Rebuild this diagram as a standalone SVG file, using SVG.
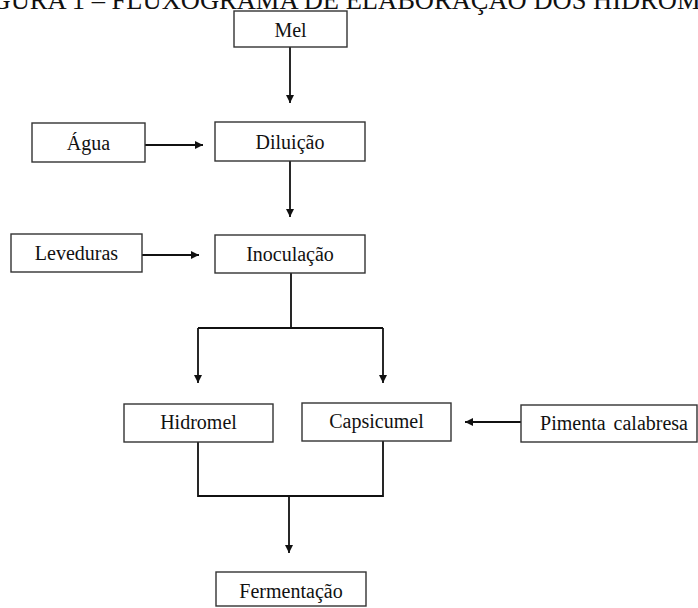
<svg xmlns="http://www.w3.org/2000/svg" width="698" height="608" viewBox="0 0 698 608">
<style>
.box{fill:#fff;stroke:#333;stroke-width:1.4}
.lbl{font-family:"Liberation Serif","Times New Roman",serif;font-size:20px;fill:#111;text-anchor:middle}
.ttl{font-family:"Liberation Serif","Times New Roman",serif;font-size:26.5px;fill:#111}
.ln{fill:none;stroke:#111;stroke-width:1.8}
</style>
<defs>
<marker id="ah" viewBox="0 0 10 10" refX="10" refY="5" markerWidth="8" markerHeight="8" markerUnits="userSpaceOnUse" orient="auto">
<path d="M0,0 L10,5 L0,10 z" fill="#111"/>
</marker>
</defs>
<rect width="698" height="608" fill="#fff"/>
<text class="ttl" x="-32" y="9">FIGURA 1 – FLUXOGRAMA DE ELABORAÇÃO DOS HIDROMÉIS</text>
<g id="connectors">
<path class="ln" d="M290,47 V103" marker-end="url(#ah)"/>
<path class="ln" d="M145,145 H203" marker-end="url(#ah)"/>
<path class="ln" d="M290,161 V217" marker-end="url(#ah)"/>
<path class="ln" d="M142,255 H199" marker-end="url(#ah)"/>
<path class="ln" d="M291,273 V328 M198,328 H383"/>
<path class="ln" d="M198,328 V383" marker-end="url(#ah)"/>
<path class="ln" d="M383,328 V383" marker-end="url(#ah)"/>
<path class="ln" d="M521,422 H465" marker-end="url(#ah)"/>
<path class="ln" d="M198,442 V496 H383 V441"/>
<path class="ln" d="M289,496 V553" marker-end="url(#ah)"/>
</g>
<g id="mel"><rect class="box" x="234" y="11" width="113" height="36"/><text class="lbl" x="290.5" y="37">Mel</text></g>
<g id="agua"><rect class="box" x="32" y="123" width="113" height="39"/><text class="lbl" x="88.5" y="150">Água</text></g>
<g id="diluicao"><rect class="box" x="215" y="122" width="150" height="39"/><text class="lbl" x="290" y="149">Diluição</text></g>
<g id="leveduras"><rect class="box" x="11" y="234" width="131" height="38"/><text class="lbl" x="76.5" y="260">Leveduras</text></g>
<g id="inoculacao"><rect class="box" x="215" y="235" width="150" height="38"/><text class="lbl" x="290" y="261">Inoculação</text></g>
<g id="hidromel"><rect class="box" x="124" y="404" width="149" height="38"/><text class="lbl" x="198.5" y="429">Hidromel</text></g>
<g id="capsicumel"><rect class="box" x="302" y="403" width="149" height="38"/><text class="lbl" x="376.5" y="428">Capsicumel</text></g>
<g id="pimenta"><rect class="box" x="521" y="405" width="176" height="37"/><text class="lbl" x="614" y="430" word-spacing="3">Pimenta calabresa</text></g>
<g id="fermentacao"><rect class="box" x="216" y="572" width="150" height="34"/><text class="lbl" x="291" y="598">Fermentação</text></g>
</svg>
